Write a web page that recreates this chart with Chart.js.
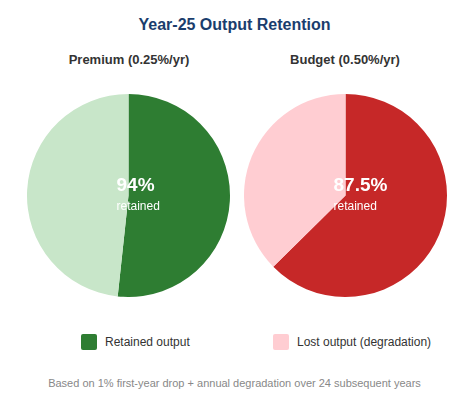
<!DOCTYPE html>
<html>
<head>
<meta charset="utf-8">
<script src="https://cdn.jsdelivr.net/npm/chart.js@4"></script>
<style>
  body { margin: 0; background: #fff; font-family: "Liberation Sans", Arial, sans-serif; }
  #wrap { position: relative; width: 469px; height: 408px; }
  h2 { position: absolute; top: 16px; left: 0; width: 469px; margin: 0; text-align: center;
       font-size: 16px; color: #1a3d6d; }
  .sub { position: absolute; top: 52px; width: 200px; margin: 0; text-align: center;
         font-size: 13px; font-weight: bold; color: #333; }
  .box { position: absolute; width: 203px; height: 203px; }
  #legend { position: absolute; top: 334px; left: 0; width: 469px; font-size: 12px; color: #333; }
  .item { position: absolute; top: 0; height: 17px; line-height: 17px; white-space: nowrap; }
  .sw { display: inline-block; width: 16px; height: 16px; border-radius: 2px; vertical-align: top; margin-right: 8px; }
  #note { position: absolute; top: 377px; left: 0; width: 469px; text-align: center; font-size: 11px; color: #888; }
</style>
</head>
<body>
<div id="wrap">
  <h2>Year-25 Output Retention</h2>
  <div class="sub" id="sub0" style="left:29px"></div>
  <div class="sub" id="sub1" style="left:245px"></div>
  <div class="box" style="left:27px; top:94px"><canvas id="pie0"></canvas></div>
  <div class="box" style="left:243.5px; top:94px"><canvas id="pie1"></canvas></div>
  <div id="legend"></div>
  <div id="note">Based on 1% first-year drop + annual degradation over 24 subsequent years</div>
</div>
<script>
const panelTitles = ['Premium (0.25%/yr)', 'Budget (0.50%/yr)'];
const sliceLabels = ['Retained output', 'Lost output (degradation)'];
// slice shares as drawn in the picture (percent of the circle)
const retainedShare = [51.7, 62.6];
const lostShare = [48.3, 37.4];
const centerValues = ['94%', '87.5%'];
const retainedColors = ['#2e7d32', '#c62828'];
const lostColors = ['#c8e6c9', '#ffcdd2'];

// Center label plugin
const centerText = {
    id: 'centerText',
    afterDraw(chart, args, opts) {
        const { ctx, chartArea } = chart;
        const cx = (chartArea.left + chartArea.right) / 2;
        const cy = (chartArea.top + chartArea.bottom) / 2;
        ctx.save();
        ctx.fillStyle = '#fff';
        ctx.textAlign = 'left';
        ctx.textBaseline = 'alphabetic';
        ctx.font = 'bold 19px "Liberation Sans", Arial, sans-serif';
        ctx.fillText(opts.text, cx - 12, cy - 5);
        ctx.font = '12px "Liberation Sans", Arial, sans-serif';
        ctx.fillText('retained', cx - 12, cy + 14);
        ctx.restore();
    }
};

panelTitles.forEach((t, i) => {
    document.getElementById('sub' + i).textContent = t;
    new Chart(document.getElementById('pie' + i), {
        type: 'pie',
        data: {
            labels: sliceLabels,
            datasets: [{
                data: [retainedShare[i], lostShare[i]],
                backgroundColor: [retainedColors[i], lostColors[i]],
                borderWidth: 0
            }]
        },
        options: {
            responsive: true,
            maintainAspectRatio: false,
            animation: false,
            layout: { padding: 0 },
            plugins: {
                legend: { display: false },
                tooltip: { enabled: false },
                centerText: { text: centerValues[i] }
            }
        },
        plugins: [centerText]
    });
});

// Shared legend
const legend = document.getElementById('legend');
const legendX = [81, 273];
sliceLabels.forEach((l, i) => {
    const item = document.createElement('div');
    item.className = 'item';
    item.style.left = legendX[i] + 'px';
    item.innerHTML = '<span class="sw" style="background:' + (i === 0 ? retainedColors[0] : lostColors[1]) + '"></span>' + l;
    legend.appendChild(item);
});
</script>
</body>
</html>
